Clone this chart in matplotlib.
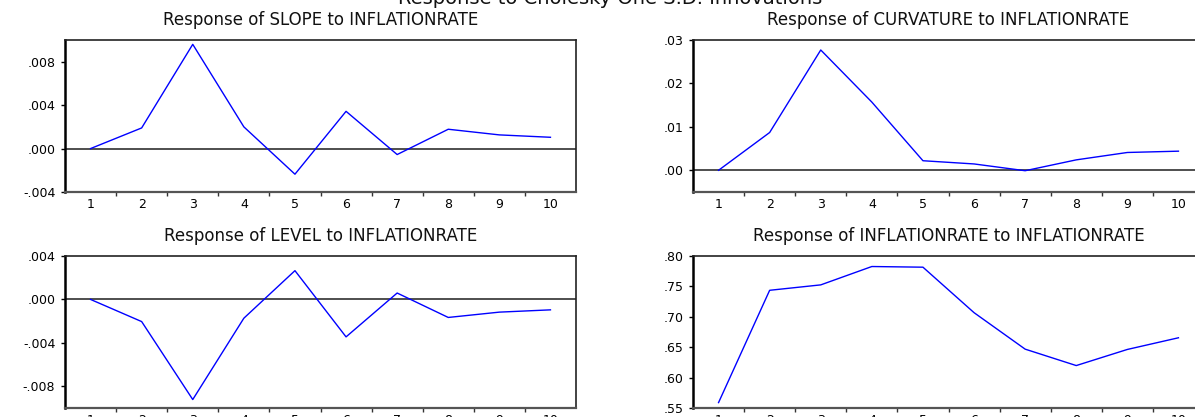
import matplotlib
matplotlib.use("Agg")
import matplotlib.pyplot as plt
from matplotlib.ticker import FixedLocator, FuncFormatter

plt.rcParams['font.family'] = ['DejaVu Sans']

periods = [1, 2, 3, 4, 5, 6, 7, 8, 9, 10]

slope = [0.0, 0.0019, 0.0096, 0.0020, -0.00236, 0.00343, -0.00055, 0.00178, 0.00126, 0.00104]
curvature = [0.0, 0.0087, 0.0277, 0.0157, 0.0022, 0.00146, -0.0001, 0.0024, 0.0041, 0.0044]
level = [0.0, -0.00204, -0.00922, -0.00173, 0.00265, -0.00345, 0.00059, -0.00166, -0.00117, -0.00096]
inflation = [0.5589, 0.7436, 0.7525, 0.7827, 0.7816, 0.7068, 0.6468, 0.6198, 0.6463, 0.6655]

titles = ["Response of SLOPE to INFLATIONRATE",
          "Response of CURVATURE to INFLATIONRATE",
          "Response of LEVEL to INFLATIONRATE",
          "Response of INFLATIONRATE to INFLATIONRATE"]
suptitle = "Response to Cholesky One S.D. Innovations"

yticks_slope = [-0.004, 0.000, 0.004, 0.008]
yticks_curv = [0.00, 0.01, 0.02, 0.03]
yticks_level = [-0.008, -0.004, 0.000, 0.004]
yticks_infl = [0.55, 0.60, 0.65, 0.70, 0.75, 0.80]

W, H = 1195, 417
fig = plt.figure(figsize=(W / 100, H / 100), dpi=100)


def px_axes(left, top, right, bottom):
    return fig.add_axes([left / W, 1 - bottom / H, (right - left) / W, (bottom - top) / H])


def fmt(decimals):
    def f(v, pos):
        s = f"{v:.{decimals}f}"
        if s.startswith("-0."):
            s = "-" + s[2:]
        elif s.startswith("0."):
            s = s[1:]
        return s
    return FuncFormatter(f)


specs = [
    (slope, titles[0], yticks_slope, (-0.004, 0.010), 3, (65, 40, 576, 192)),
    (curvature, titles[1], yticks_curv, (-0.005, 0.030), 2, (693, 40, 1204, 192)),
    (level, titles[2], yticks_level, (-0.010, 0.004), 3, (65, 256, 576, 408)),
    (inflation, titles[3], yticks_infl, (0.55, 0.80), 2, (693, 256, 1204, 408)),
]

for data, title, yt, ylim, dec, box in specs:
    ax = px_axes(*box)
    ax.plot(periods, data, color='#0000ff', lw=1.0, zorder=3)
    if ylim[0] < 0 < ylim[1]:
        ax.axhline(0, color='#404040', lw=1.3, zorder=2)
    ax.set_xlim(0.5, 10.5)
    ax.set_ylim(*ylim)
    ax.xaxis.set_major_locator(FixedLocator(periods))
    ax.xaxis.set_minor_locator(FixedLocator([p + 0.5 for p in periods[:-1]]))
    ax.set_xticklabels([str(p) for p in periods])
    ax.yaxis.set_major_locator(FixedLocator(yt))
    ax.yaxis.set_major_formatter(fmt(dec))
    ax.tick_params(axis='x', which='major', length=0, pad=4.5, labelsize=9)
    ax.tick_params(axis='x', which='minor', length=3, width=1, direction='out', color='#333333')
    ax.tick_params(axis='y', which='major', length=3, width=1, direction='out', pad=4, labelsize=9)
    ax.spines['left'].set_linewidth(1.8)
    ax.spines['left'].set_color('black')
    ax.spines['bottom'].set_linewidth(1.6)
    ax.spines['bottom'].set_color('#555555')
    ax.spines['top'].set_linewidth(1.2)
    ax.spines['top'].set_color('#222222')
    ax.spines['right'].set_linewidth(1.2)
    ax.spines['right'].set_color('#222222')
    ax.set_title(title, fontsize=12, pad=11, color='#111111')

fig.text(610 / W, 1 - 3.5 / H, suptitle, ha='center', va='baseline', fontsize=14, color='#111111')

fig.savefig("out.png", dpi=100)
